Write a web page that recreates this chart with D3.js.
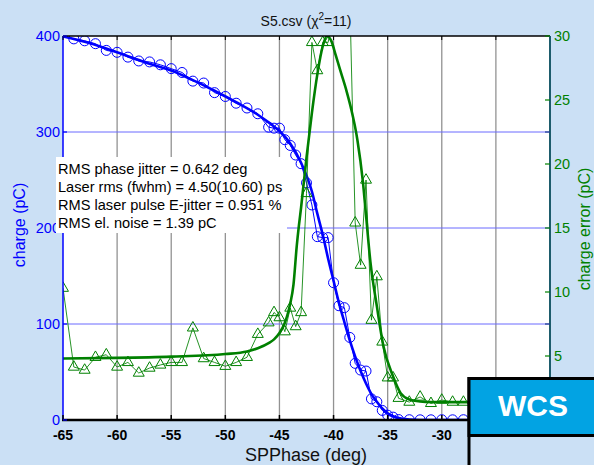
<!DOCTYPE html>
<html>
<head>
<meta charset="utf-8">
<script src="https://cdn.jsdelivr.net/npm/d3@7"></script>
<style>
  body { margin: 0; background: #cbe0f5; }
  svg { display: block; font-family: "Liberation Sans", Arial, sans-serif; }
</style>
</head>
<body>
<svg width="594" height="465"></svg>
<script>
// measured points
var phase = [-65, -64, -63, -62, -61, -60, -59, -58, -57, -56, -55, -54, -53, -52, -51, -50, -49, -48, -47, -46,
  -45.5, -45, -44.5, -44, -43.5, -43, -42.5, -42, -41.5, -41, -40.5, -40, -39.5, -39, -38.5, -38, -37.5, -37,
  -36.5, -36, -35.5, -35, -34.5, -34, -33, -32, -31, -30, -29, -28, -27, -26, -25]
var charge = [null, 397, 395, 392, 385, 383, 378, 374, 373, 370, 366, 362, 353, 351, 341, 337, 330, 325, 319, 305,
  304, 304, 292, 286, 276, 267, 247, 224, 191, 190, 190, 143, 119, 117, 86, 59, 52, 51,
  22, 19, 10, 5, 3, 0.5, 0.3, 0.2, 0.2, 0.3, 0.2, 0.3, 0.2, 0.3, 0.2]
var chargeErr = [10.3, 4.14, 3.9, 4.9, 5.1, 4.14, 4.5, 3.67, 4.06, 4.3, 4.5, 4.5, 7.2, 4.8, 4.5, 4.2, 4.5, 4.9, 6.7, 7.6,
  8.4, 8.0, 6.9, 8.75, 7.3, 8.4, 17.7, 29.5, 27.3, 29.5, 29.5, 32, 34, 31, 33, 15.4, 12.1, 18.75,
  7.8, 11.2, 6.1, 3.3, 3.3, 1.7, 1.4, 1.8, 1.3, 1.56, 1.4, 1.4, 1.5, 1.4, 1.5]

// fitted curves
var chargeFitPhase = [-65, -63, -61, -59, -57, -55, -53, -51, -49, -47, -46, -45, -44, -43, -42, -41.5, -41, -40.5,
  -40, -39.5, -39, -38.5, -38, -37.5, -37, -36.5, -36, -35.5, -35, -34.5, -34, -33, -32, -20]
var chargeFit = [399.5, 394, 387, 379, 371, 364, 354, 343, 331, 318, 310, 301, 288, 268, 238, 215, 193, 168,
  145, 122, 102, 83, 66, 51, 38, 27, 19, 12, 7, 4, 2, 0.5, 0, 0]
var errFitPhase = [-65, -60, -55, -50, -48, -47, -46, -45.5, -45, -44.5, -44.2, -44, -43.7, -43.4, -43.2, -43, -42.5,
  -42, -41.5, -41, -40.6, -40.2, -39.8, -39.3, -38.8, -38.4, -37.8, -37.3, -37, -36.6, -36, -35.4, -34.5, -33.8,
  -33, -32, -31, -20]
var errFit = [4.8, 4.85, 4.95, 5.15, 5.35, 5.6, 6.0, 6.3, 6.8, 7.6, 8.4, 9.1, 10.6, 13.6, 15.2, 16.6, 20.5,
  24, 27, 29.2, 30, 29.6, 28.5, 27.1, 25.7, 24.4, 21.9, 18.7, 16.0, 12.4, 8.9, 5.8, 3.4, 2.1,
  1.6, 1.45, 1.4, 1.4]

var xTicks = [-65, -60, -55, -50, -45, -40, -35, -30, -25]
var leftTicks = [0, 100, 200, 300, 400]
var rightTicks = [5, 10, 15, 20, 25, 30]
var infoLines = ["RMS phase jitter = 0.642 deg", "Laser rms (fwhm) = 4.50(10.60) ps",
  "RMS laser pulse E-jitter = 0.951 %", "RMS el. noise = 1.39 pC"]

var blue = "#0000ff", green = "#008000"
var svg = d3.select("svg")

var x = d3.scaleLinear().domain([-65, -20]).range([63, 550])
var yL = d3.scaleLinear().domain([0, 400]).range([420, 36])
var yR = d3.scaleLinear().domain([0, 30]).range([420, 36])

svg.append("defs").append("clipPath").attr("id", "plot")
  .append("rect").attr("x", 63).attr("y", 36).attr("width", 487).attr("height", 384)

svg.append("rect").attr("x", 63).attr("y", 36).attr("width", 487).attr("height", 384).attr("fill", "white")

// grid
svg.selectAll(".vgrid").data(xTicks.slice(1)).enter().append("line")
  .attr("x1", function(d) { return x(d) }).attr("x2", function(d) { return x(d) })
  .attr("y1", 36).attr("y2", 420).attr("stroke", "#929292").attr("stroke-width", 1.3)
svg.selectAll(".hgrid").data([100, 200, 300]).enter().append("line")
  .attr("x1", 63).attr("x2", 550)
  .attr("y1", function(d) { return yL(d) }).attr("y2", function(d) { return yL(d) })
  .attr("stroke", "#6b6bff").attr("stroke-width", 1)

var g = svg.append("g").attr("clip-path", "url(#plot)")

var pts = phase.map(function(p, i) { return { p: p, c: charge[i], e: chargeErr[i] } })

// blue: measured + fit
g.append("path")
  .attr("d", d3.line().defined(function(d) { return d.c != null })
    .x(function(d) { return x(d.p) }).y(function(d) { return yL(d.c) })(pts))
  .attr("fill", "none").attr("stroke", blue).attr("stroke-width", 1)
g.selectAll(".circ").data(pts.filter(function(d) { return d.c != null })).enter().append("circle")
  .attr("cx", function(d) { return x(d.p) }).attr("cy", function(d) { return yL(d.c) })
  .attr("r", 5).attr("fill", "none").attr("stroke", blue).attr("stroke-width", 1)
g.append("path")
  .attr("d", d3.line().curve(d3.curveMonotoneX)
    .x(function(d, i) { return x(chargeFitPhase[i]) }).y(function(d) { return yL(d) })(chargeFit))
  .attr("fill", "none").attr("stroke", blue).attr("stroke-width", 2.6)

// green: error + fit
g.append("path")
  .attr("d", d3.line().x(function(d) { return x(d.p) }).y(function(d) { return yR(d.e) })(pts))
  .attr("fill", "none").attr("stroke", green).attr("stroke-width", 1).attr("opacity", 0.85)
g.selectAll(".tri").data(pts).enter().append("path")
  .attr("d", d3.symbol().type(d3.symbolTriangle).size(52))
  .attr("transform", function(d) { return "translate(" + x(d.p) + "," + yR(d.e) + ")" })
  .attr("fill", "none").attr("stroke", green).attr("stroke-width", 1)
g.append("path")
  .attr("d", d3.line().curve(d3.curveMonotoneX)
    .x(function(d, i) { return x(errFitPhase[i]) }).y(function(d) { return yR(d) })(errFit))
  .attr("fill", "none").attr("stroke", green).attr("stroke-width", 2.6)

// axes frame
svg.append("line").attr("x1", 63).attr("x2", 550).attr("y1", 36).attr("y2", 36).attr("stroke", "black").attr("stroke-width", 1.5)
svg.append("line").attr("x1", 62).attr("x2", 550).attr("y1", 420).attr("y2", 420).attr("stroke", "black").attr("stroke-width", 2.5)
svg.append("line").attr("x1", 63).attr("x2", 63).attr("y1", 36).attr("y2", 420).attr("stroke", blue).attr("stroke-width", 1.5)
svg.append("line").attr("x1", 550).attr("x2", 550).attr("y1", 36).attr("y2", 420).attr("stroke", "#1d5c6c").attr("stroke-width", 2)

// x ticks
svg.selectAll(".xtb").data(xTicks).enter().append("line")
  .attr("x1", function(d) { return x(d) }).attr("x2", function(d) { return x(d) })
  .attr("y1", 415).attr("y2", 420).attr("stroke", "black").attr("stroke-width", 1.5)
svg.selectAll(".xtt").data(xTicks).enter().append("line")
  .attr("x1", function(d) { return x(d) }).attr("x2", function(d) { return x(d) })
  .attr("y1", 36).attr("y2", 40).attr("stroke", "black").attr("stroke-width", 1)
svg.selectAll(".xtl").data(xTicks).enter().append("text")
  .attr("x", function(d) { return x(d) }).attr("y", 440)
  .attr("text-anchor", "middle").attr("font-size", 14).attr("font-weight", "bold").attr("fill", "black")
  .text(function(d) { return d })

// left ticks
svg.selectAll(".lt").data(leftTicks).enter().append("line")
  .attr("x1", 63).attr("x2", 67)
  .attr("y1", function(d) { return yL(d) }).attr("y2", function(d) { return yL(d) })
  .attr("stroke", blue).attr("stroke-width", 1.2)
svg.selectAll(".ltl").data(leftTicks).enter().append("text")
  .attr("x", 60).attr("y", function(d) { return yL(d) + 5 })
  .attr("text-anchor", "end").attr("font-size", 14.5).attr("fill", blue)
  .text(function(d) { return d })

// right ticks
svg.selectAll(".rt").data(rightTicks).enter().append("line")
  .attr("x1", 545).attr("x2", 550)
  .attr("y1", function(d) { return yR(d) }).attr("y2", function(d) { return yR(d) })
  .attr("stroke", green).attr("stroke-width", 1.2)
svg.selectAll(".rt2").data([100, 300]).enter().append("line")
  .attr("x1", 545).attr("x2", 550)
  .attr("y1", function(d) { return yL(d) }).attr("y2", function(d) { return yL(d) })
  .attr("stroke", "#1d3c8c").attr("stroke-width", 1.2)
svg.selectAll(".rtl").data(rightTicks).enter().append("text")
  .attr("x", 554).attr("y", function(d) { return yR(d) + 5 })
  .attr("font-size", 14.5).attr("fill", green)
  .text(function(d) { return d })

// labels
var title = svg.append("text").attr("x", 306).attr("y", 26).attr("text-anchor", "middle")
  .attr("font-size", 14).attr("fill", "#111")
title.append("tspan").text("S5.csv  (\u03c7")
title.append("tspan").attr("dy", -6).attr("font-size", 10).text("2")
title.append("tspan").attr("dy", 6).text("=11)")

svg.append("text").attr("transform", "translate(25,225) rotate(-90)")
  .attr("text-anchor", "middle").attr("font-size", 16).attr("fill", blue).text("charge (pC)")
svg.append("text").attr("transform", "translate(590,229) rotate(-90)")
  .attr("text-anchor", "middle").attr("font-size", 16).attr("fill", green).text("charge error (pC)")
svg.append("text").attr("x", 306).attr("y", 461).attr("text-anchor", "middle")
  .attr("font-size", 18).attr("fill", "#111").text("SPPhase (deg)")

// info box
svg.append("rect").attr("x", 56).attr("y", 157).attr("width", 231).attr("height", 76).attr("fill", "white")
svg.selectAll(".info").data(infoLines).enter().append("text")
  .attr("x", 58).attr("y", function(d, i) { return 174 + i * 17.9 })
  .attr("font-size", 14.6).attr("fill", "black")
  .text(function(d) { return d })

// logo
svg.append("rect").attr("x", 469).attr("y", 378.5).attr("width", 140).attr("height", 100)
  .attr("fill", "#cbe0f5").attr("stroke", "black").attr("stroke-width", 3)
svg.append("rect").attr("x", 469).attr("y", 378.5).attr("width", 140).attr("height", 57)
  .attr("fill", "#02a3e3").attr("stroke", "black").attr("stroke-width", 3)
svg.append("text").attr("x", 533).attr("y", 416).attr("text-anchor", "middle")
  .attr("font-size", 30).attr("font-weight", "bold").attr("fill", "white").text("WCS")
</script>
</body>
</html>
